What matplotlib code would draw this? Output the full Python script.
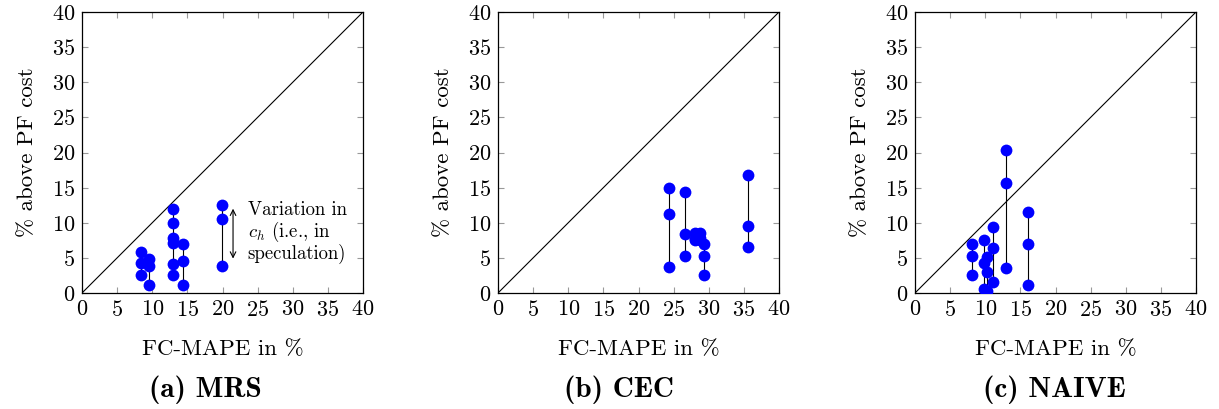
import numpy as np
import matplotlib
matplotlib.use("Agg")
import matplotlib.pyplot as plt

plt.rcParams['font.family'] = 'cmr10'
plt.rcParams['mathtext.fontset'] = 'cm'
plt.rcParams['axes.formatter.use_mathtext'] = True

# data: each group = one forecast method, three values of c_h
mrs_x = [8.4, 9.6, 12.9, 13.0, 14.4, 19.9]
mrs_y = [[5.8, 4.2, 2.5],
         [4.8, 3.9, 1.2],
         [12.0, 9.9, 7.9],
         [7.1, 4.1, 2.5],
         [7.0, 4.6, 1.1],
         [12.5, 10.6, 3.9]]

cec_x = [24.4, 26.6, 28.1, 28.8, 29.3, 35.6]
cec_y = [[14.9, 11.3, 3.7],
         [14.4, 8.4, 5.3],
         [8.5, 7.7, 7.5],
         [8.6, 7.9, 7.6],
         [7.0, 5.3, 2.5],
         [16.8, 9.6, 6.6]]

naive_x = [8.1, 9.8, 10.2, 11.1, 12.9, 16.1]
naive_y = [[7.0, 5.3, 2.5],
           [7.5, 4.3, 0.6],
           [5.1, 3.0, 0.3],
           [9.4, 6.4, 1.6],
           [20.4, 15.6, 3.6],
           [11.6, 7.0, 1.1]]

panels = [(mrs_x, mrs_y, "(a) MRS"),
          (cec_x, cec_y, "(b) CEC"),
          (naive_x, naive_y, "(c) NAIVE")]
ticks = [0, 5, 10, 15, 20, 25, 30, 35, 40]

W, H = 1219, 409
fig = plt.figure(figsize=(W / 100, H / 100), dpi=100)

lefts = [82, 498, 915]
cap_x = [205, 619, 1054]
axes = []
for i, (xs, ys, cap) in enumerate(panels):
    ax = fig.add_axes([lefts[i] / W, (H - 293) / H, 281 / W, 281 / H])
    axes.append(ax)
    ax.plot([0, 40], [0, 40], color='black', lw=0.8)
    for x, yy in zip(xs, ys):
        ax.plot([x, x], [min(yy), max(yy)], color='black', lw=0.8, zorder=2)
        ax.plot([x] * len(yy), yy, 'o', color='#0000ff', ms=8.5,
                markeredgewidth=0, zorder=3)
    ax.set_xlim(0, 40)
    ax.set_ylim(0, 40)
    ax.set_xticks(ticks)
    ax.set_yticks(ticks)
    ax.tick_params(direction='in', top=True, right=True, length=4,
                   width=0.8, color='#999999', labelsize=16, pad=5)
    for s in ax.spines.values():
        s.set_linewidth(0.9)
    ax.set_xlabel("FC-MAPE in %", fontsize=16.5, va='center')
    ax.set_ylabel("% above PF cost", fontsize=16.5, va='center')
    ax.xaxis.set_label_coords(0.5, -0.199)
    ax.yaxis.set_label_coords(-0.196, 0.5)
    fig.text(cap_x[i] / W, 1 - 390 / H, cap, family='cmb10', fontsize=21,
             ha='center', va='center')

# annotation in panel (a)
axes[0].annotate("", xy=(21.5, 4.9), xytext=(21.5, 12.0),
                 arrowprops=dict(arrowstyle='<->', color='black', lw=0.8,
                                 shrinkA=0, shrinkB=0))
axes[0].text(23.6, 13.1, "Variation in\n$c_h$ (i.e., in\nspeculation)",
             fontsize=13.5, va='top', ha='left', linespacing=1.0)

fig.savefig("out.png", dpi=100)
